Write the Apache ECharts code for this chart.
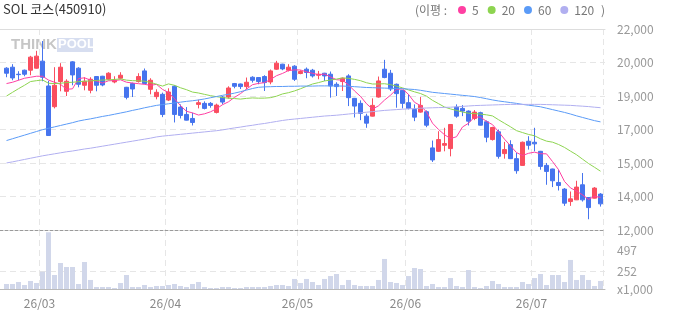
<!DOCTYPE html>
<html>
<head>
<meta charset="utf-8">
<script src="https://cdn.jsdelivr.net/npm/echarts@6/dist/echarts.min.js"></script>
<style>
html, body { margin: 0; padding: 0; background: #fff; }
#chart { width: 673px; height: 315px; }
</style>
</head>
<body>
<div id="chart"></div>
<script>
// daily prices
var opens = [20050,20100,19750,19950,19950,20050,20400,19165,18135,19385,18900,20365,20050,19200,18950,19635,19650,19500,19365,19550,
  19100,19285,19385,19915,19000,18635,18750,18465,19150,18115,17750,17550,18250,18300,18300,17850,18615,18615,19285,19265,
  19135,19600,19585,19635,19365,20000,20250,19950,20150,19785,20000,19950,19700,19800,19750,19250,19385,19665,18550,18300,
  17665,17665,18615,20000,19800,19250,18950,18335,18000,17865,17885,16085,15915,16215,16050,18115,18050,17915,17550,17835,
  17385,16500,16885,15800,16250,15550,15215,16415,16365,15915,15215,15035,14365,14035,13415,13500,14250,13615,13585,13785];
var closes = [19800,19565,19730,19750,20600,20650,19600,16700,19200,20100,19400,19715,19250,19400,19500,19200,19215,19800,19450,19700,
  18600,19015,19635,19285,19450,18850,17750,18865,17750,17700,17465,17350,18335,18050,18200,18215,18365,19065,19150,19135,
  19350,19450,19385,19335,19915,20300,20015,20100,19500,19885,19835,19665,19750,19665,19165,19135,19550,18585,18165,17800,
  17315,18200,19415,19585,19015,18785,18300,18050,17615,18200,17215,15485,16500,16300,17250,17665,17915,17415,17865,17215,
  16615,17100,15665,16000,15550,14950,16365,16215,16285,15165,14915,14450,14215,13335,13550,14135,13500,13115,14085,13300];
var lows = [19600,19450,19450,19650,19700,20025,19400,16690,18050,18900,18665,19200,19100,18950,18800,18900,19150,19450,19300,19500,
  18500,18615,19335,19250,18750,18500,17615,18415,17350,17550,17450,17200,18050,18000,18085,17800,18250,18535,19050,19015,
  19000,19335,19250,18915,19250,19965,19950,19885,19415,19750,19550,19585,19500,19415,18585,18665,18915,18165,17600,17465,
  17085,17650,18585,19550,18915,18085,18050,18000,17415,17835,17115,15385,15885,15915,15665,17585,17665,17200,17465,17200,
  16365,16450,15550,15550,15530,14800,15200,16000,15915,15000,14250,14135,13965,13200,13200,13490,13415,12535,13570,13165];
var highs = [20100,20250,19900,19980,20665,20915,21400,19415,20100,20300,19500,20400,20100,19600,19600,19660,19670,19850,19650,19850,
  19120,19335,19800,20035,19550,19000,18835,19050,19200,18250,18115,17835,18485,18400,18365,18285,18665,19150,19315,19285,
  19585,19650,19600,19700,19985,20415,20270,20250,20200,19950,20085,20015,19915,19820,19885,19350,19585,19750,18570,18450,
  17785,18550,19635,20465,19965,19285,18970,18750,18250,18615,17950,16450,16915,17085,17270,18250,18215,17950,17965,17885,
  17450,17135,17000,16385,16465,15835,16400,16665,17085,15935,15335,15050,15000,14085,13915,14450,14835,13630,14135,13835];

// moving averages (이평)
var ma5 = [19285,19350,19450,19550,19600,19650,19650,19460,19350,19250,19000,19023,19533,19573,19453,19413,19313,19423,19433,19473,
  19353,19313,19280,19247,19197,19247,18994,18840,18533,18183,17906,17826,17720,17780,17880,18030,18233,18379,18599,18786,
  19013,19230,19294,19331,19487,19677,19790,19933,19966,19960,19867,19797,19727,19760,19616,19476,19453,19220,18920,18647,
  18283,18013,18179,18463,18706,19000,19020,18747,18353,18190,17876,17313,17003,16740,16550,16640,17126,17309,17622,17615,
  17405,17242,16892,16519,16186,15853,15706,15816,15873,15796,15789,15406,15006,14416,14093,13937,13747,13523,13673,13623];
var ma20 = [18665,18850,19030,19200,19385,19430,19465,19300,19285,19300,19335,19350,19380,19400,19420,19440,19460,19470,19490,19516,
  19456,19429,19424,19401,19343,19253,19161,19269,19197,19077,18980,18862,18816,18748,18683,18634,18592,18555,18540,18512,
  18549,18571,18558,18561,18584,18657,18770,18832,18919,19028,19147,19263,19333,19414,19462,19508,19568,19544,19494,19428,
  19326,19263,19265,19277,19232,19157,19071,18968,18874,18790,18659,18450,18287,18119,18023,17950,17868,17810,17795,17765,
  17730,17675,17488,17309,17135,16944,16847,16755,16689,16537,16422,16370,16256,16108,15923,15746,15525,15309,15120,14925];
var ma60 = [16450,16540,16630,16720,16810,16900,16990,17060,17130,17200,17270,17340,17420,17480,17530,17590,17650,17700,17760,17820,
  17880,17950,18010,18080,18140,18200,18240,18280,18320,18360,18400,18430,18470,18520,18580,18640,18700,18750,18810,18880,
  18960,19040,19100,19120,19130,19140,19140,19150,19150,19160,19160,19160,19170,19170,19170,19165,19160,19150,19130,19110,
  19090,19080,19070,19060,19050,19040,19030,19010,18990,18950,18900,18850,18820,18790,18760,18730,18700,18670,18640,18590,
  18530,18470,18420,18380,18340,18300,18250,18210,18170,18130,18060,17990,17920,17850,17770,17680,17600,17520,17440,17380];
var ma120 = [15335,15390,15450,15510,15570,15630,15690,15740,15790,15840,15890,15930,15980,16030,16070,16120,16170,16220,16270,16320,
  16370,16420,16470,16520,16570,16630,16670,16700,16730,16760,16790,16820,16850,16880,16910,16940,16980,17030,17080,17120,
  17170,17210,17260,17300,17350,17400,17450,17490,17520,17550,17580,17610,17640,17670,17690,17710,17740,17770,17800,17830,
  17860,17890,17920,17950,17970,17990,18010,18030,18040,18060,18070,18080,18090,18100,18110,18130,18150,18170,18190,18200,
  18210,18220,18230,18240,18250,18250,18250,18250,18250,18250,18240,18230,18220,18210,18200,18180,18160,18140,18110,18085];

// volume in thousands
var volumes = [100,100,124,88,136,112,247,718,207,351,303,303,100,363,148,64,64,64,52,112,
  207,64,64,88,64,76,76,88,100,76,64,100,124,64,52,52,64,64,52,52,
  64,64,64,64,76,88,88,76,160,112,160,124,88,160,195,219,88,148,88,76,
  76,76,148,399,124,112,88,195,291,279,76,100,64,64,171,76,64,267,64,52,
  76,136,100,64,64,64,124,100,171,219,88,207,207,124,387,148,207,148,76,136];

var monthStart = [6, 27, 49, 67, 88];
var monthLabels = ['26/03', '26/04', '26/05', '26/06', '26/07'];
var maNames = ['5', '20', '60', '120'];
var maColors = ['#ff3fa2', '#8dd450', '#5b9bf7', '#b1aff0'];
var volTicks = [252, 497];
var volMin = 40, volMax = 745;

var font = "'Noto Sans CJK KR', 'Noto Sans', sans-serif";
var days = closes.map(function (c, i) { return String(i); });
var candles = opens.map(function (o, i) { return [o, closes[i], lows[i], highs[i]]; });
var isMonth = function (i) { return monthStart.indexOf(i) >= 0; };
var gridDash = { color: '#e6e6e6', type: [6, 4], width: 1 };

var myChart = echarts.init(document.getElementById('chart'));

var option = {
  animation: false,
  textStyle: { fontFamily: font },
  title: {
    text: 'SOL 코스(450910)', left: 3, top: 3, padding: 0,
    textStyle: { fontSize: 13, fontWeight: 'normal', color: '#333', fontFamily: font }
  },
  legend: {
    data: maNames, left: 458, top: 4, padding: 0,
    icon: 'circle', itemWidth: 8, itemHeight: 8, itemGap: 9,
    selectedMode: false,
    textStyle: { color: '#777', fontSize: 12, fontFamily: font, padding: [0, 0, 0, 1] }
  },
  graphic: [
    { type: 'text', left: 415, top: 4, style: { text: '(이평 :', fill: '#777', font: '12px ' + font } },
    { type: 'text', left: 601, top: 4, style: { text: ')', fill: '#777', font: '12px ' + font } },
    { type: 'text', left: 11, top: 37, silent: true,
      style: { text: 'THINK', fill: '#c6c6c6', font: 'bold 15px "Liberation Sans", Arial' } },
    { type: 'rect', left: 57, top: 38, silent: true, shape: { width: 36, height: 14 }, style: { fill: '#d7def0' } },
    { type: 'text', left: 58, top: 38, silent: true,
      style: { text: 'POOL', fill: '#fff', font: 'bold 13px "Liberation Sans", Arial' } }
  ],
  grid: [
    { left: 3.5, right: 69.5, top: 29, height: 201 },
    { left: 3.5, right: 69.5, top: 230, height: 59 },
    { left: 0, right: 68, top: 29, height: 201 },
    { left: 0, right: 68, top: 230, height: 59 }
  ],
  xAxis: [
    { gridIndex: 0, type: 'category', data: days, boundaryGap: true,
      axisLine: { show: false }, axisTick: { show: false }, axisLabel: { show: false },
      splitLine: { show: true, interval: isMonth, lineStyle: gridDash } },
    { gridIndex: 1, type: 'category', data: days, boundaryGap: true,
      axisLine: { show: false }, axisTick: { show: false },
      axisLabel: { show: true, interval: isMonth, color: '#888', fontSize: 12, margin: 8,
        padding: [0, 6, 0, 0],
        formatter: function (v, i) { return monthLabels[monthStart.indexOf(i)] || ''; } },
      splitLine: { show: true, interval: isMonth, lineStyle: gridDash } },
    { gridIndex: 2, type: 'value', min: 0, max: 1, position: 'bottom',
      axisLine: { show: true, onZero: false, lineStyle: { color: '#9a9a9a', type: [3, 2] } },
      axisTick: { show: false }, axisLabel: { show: false }, splitLine: { show: false } },
    { gridIndex: 2, type: 'value', min: 0, max: 1, position: 'top',
      axisLine: { show: true, onZero: false, lineStyle: { color: '#dddddd' } },
      axisTick: { show: false }, axisLabel: { show: false }, splitLine: { show: false } },
    { gridIndex: 3, type: 'value', min: 0, max: 1, position: 'bottom',
      axisLine: { show: true, onZero: false, lineStyle: { color: '#bbbbbb' } },
      axisTick: { show: false }, axisLabel: { show: false }, splitLine: { show: false } }
  ],
  yAxis: [
    { gridIndex: 0, type: 'value', min: 12000, max: 22000, show: false },
    { gridIndex: 1, type: 'value', min: volMin, max: volMax, show: false },
    { gridIndex: 2, type: 'value', min: 12000, max: 22000, interval: 10000 / 6, position: 'right',
      axisLine: { show: false }, axisTick: { show: false },
      axisLabel: { margin: 12, color: '#999', fontSize: 12,
        formatter: function (v) { return (Math.round(v / 1000) * 1000).toLocaleString('en-US'); } },
      splitLine: { show: true, showMinLine: false, showMaxLine: false, lineStyle: gridDash } },
    { gridIndex: 3, type: 'value', min: volMin, max: volMax, position: 'right',
      axisLine: { show: false },
      axisTick: { show: false, customValues: [volMin].concat(volTicks) },
      axisLabel: { margin: 12, color: '#999', fontSize: 12, customValues: [volMin].concat(volTicks),
        formatter: function (v) { return v === volMin ? 'x1,000' : String(v); } },
      splitLine: { show: true, showMinLine: false, showMaxLine: false, lineStyle: gridDash } }
  ],
  series: [
    { name: 'price', type: 'candlestick', xAxisIndex: 0, yAxisIndex: 0, data: candles, barWidth: 5,
      itemStyle: { color: '#fa4e5f', color0: '#4674ee', borderColor: '#fa4e5f', borderColor0: '#4674ee', borderWidth: 1 } },
    { name: 'volume', type: 'bar', xAxisIndex: 1, yAxisIndex: 1, data: volumes, barWidth: 5,
      itemStyle: { color: '#d1d7ea' } }
  ]
};

[ma5, ma20, ma60, ma120].forEach(function (arr, k) {
  option.series.push({
    name: maNames[k], type: 'line', xAxisIndex: 0, yAxisIndex: 0, data: arr,
    symbol: 'none', showSymbol: false, z: 3,
    lineStyle: { color: maColors[k], width: 1 }, itemStyle: { color: maColors[k] }
  });
});

myChart.setOption(option);
</script>
</body>
</html>
